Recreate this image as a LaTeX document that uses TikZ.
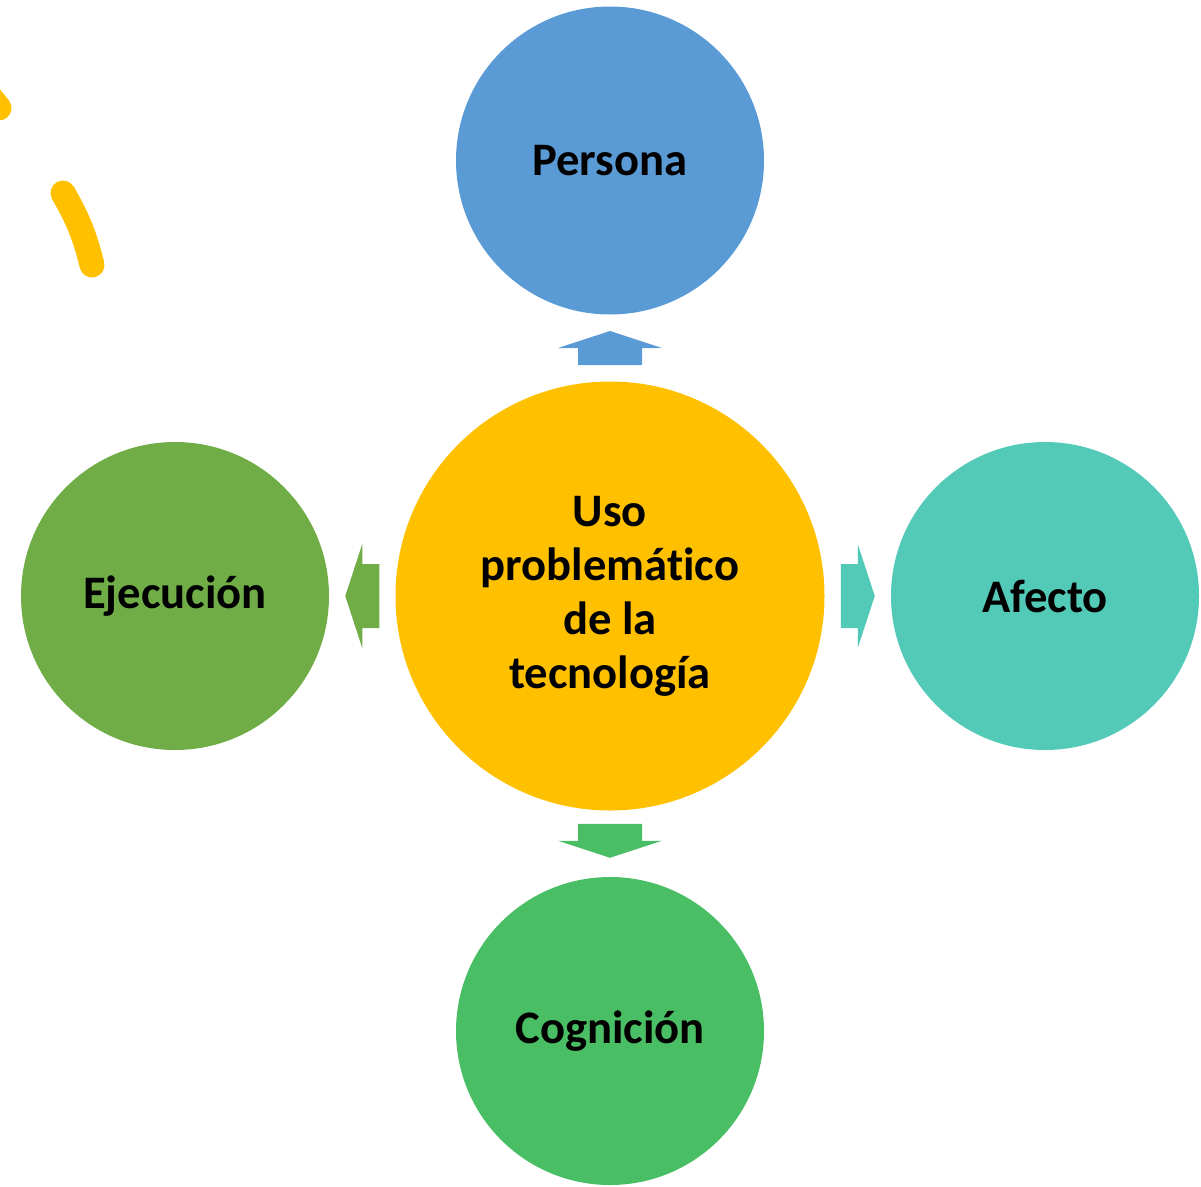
\documentclass[tikz,border=0pt]{standalone}
\usepackage{fontspec}
\setmainfont[Ligatures=NoCommon]{Carlito}
\definecolor{usoYellow}{RGB}{255,192,0}
\definecolor{personaBlue}{RGB}{91,155,213}
\definecolor{afectoTeal}{RGB}{83,201,184}
\definecolor{ejecGreen}{RGB}{112,173,71}
\definecolor{cogGreen}{RGB}{74,190,100}
\begin{document}
\begin{tikzpicture}[x=1pt,y=1pt,
    topic/.style={circle,inner sep=0pt,minimum size=308pt,align=center,
        font=\fontsize{46.6}{54}\selectfont\bfseries},
    blkarrow/.pic={\fill (-17,-32) -- (0,-32) -- (0,-52) -- (17,0) -- (0,52) -- (0,32) -- (-17,32) -- cycle;}]
    \useasboundingbox (0,0) rectangle (1201,-1186);
    % decoracion
    \draw[usoYellow,line width=25pt,line cap=round] (-28,-80) to[bend left=6] (-1,-108);
    \draw[usoYellow,line width=25pt,line cap=round] (63,-193) to[bend left=8] (92,-265);
    % circulos
    \node[topic,fill=usoYellow,minimum size=429pt] (uso) at (610,-596) {Uso\\problemático\\de la\\tecnología};
    \node[topic,fill=personaBlue] (persona) at (610,-160.5) {Persona};
    \node[topic,fill=afectoTeal] (afecto) at (1045,-596) {Afecto};
    \node[topic,fill=ejecGreen] (ejec) at (175,-596) {Ejecución};
    \node[topic,fill=cogGreen] (cog) at (610,-1031) {Cognición};
    % flechas
    \path (uso.north) -- (persona.south) coordinate[pos=.5] (upA);
    \path (uso.east) -- (afecto.west) coordinate[pos=.5] (rightA);
    \path (uso.west) -- (ejec.east) coordinate[pos=.5] (leftA);
    \path (uso.south) -- (cog.north) coordinate[pos=.5] (downA);
    \pic[fill=personaBlue,rotate=90] at (upA) {blkarrow};
    \pic[fill=afectoTeal] at (rightA) {blkarrow};
    \pic[fill=ejecGreen,rotate=180] at (leftA) {blkarrow};
    \pic[fill=cogGreen,rotate=-90] at ([yshift=3]downA) {blkarrow};
\end{tikzpicture}
\end{document}
